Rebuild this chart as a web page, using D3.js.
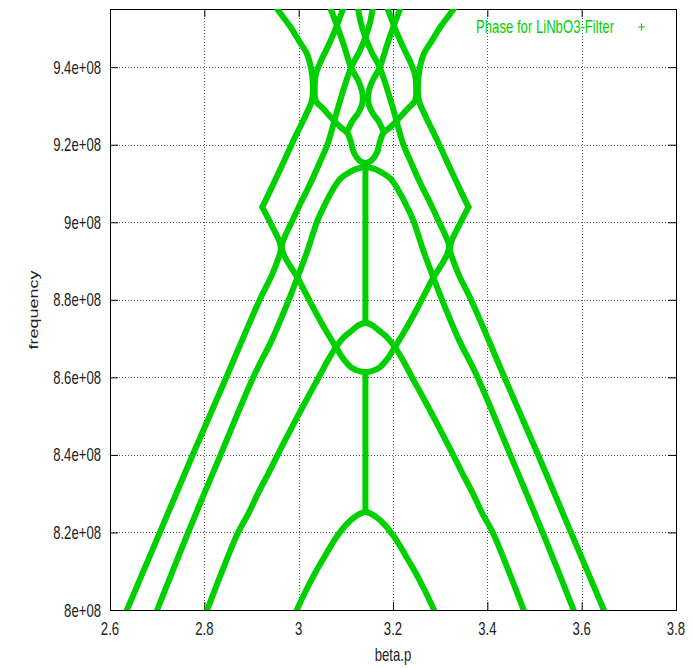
<!DOCTYPE html>
<html><head><meta charset="utf-8">
<script src="https://cdn.jsdelivr.net/npm/d3@7"></script>
<style>body{margin:0;background:#fff;} svg{display:block;}</style>
</head><body><svg id="c" width="693" height="668"></svg>
<script>
// ---- axis ticks ----
const xTicks = [2.6, 2.8, 3.0, 3.2, 3.4, 3.6, 3.8];
const xTickLabels = ["2.6", "2.8", "3", "3.2", "3.4", "3.6", "3.8"];
const yTicks = [8.0e8, 8.2e8, 8.4e8, 8.6e8, 8.8e8, 9.0e8, 9.2e8, 9.4e8];
const yTickLabels = ["8e+08", "8.2e+08", "8.4e+08", "8.6e+08", "8.8e+08", "9e+08", "9.2e+08", "9.4e+08"];
const seriesName = "Phase for LiNbO3-Filter";

// ---- branches: [beta.p, frequency] ----
const branchOuterLeftLow = [[2.636,8.000e8],[2.706,8.201e8],[2.775,8.399e8],[2.847,8.601e8],[2.917,8.799e8],[2.943,8.863e8],[2.957,8.907e8],[2.962,8.928e8],[2.960,8.948e8],[2.947,8.982e8],[2.923,9.039e8]];
const branchOuterLeftHigh = [[2.923,9.039e8],[2.955,9.121e8],[2.989,9.211e8],[3.013,9.271e8],[3.028,9.314e8],[3.030,9.358e8],[3.026,9.399e8],[3.017,9.436e8],[3.000,9.469e8],[2.983,9.503e8],[2.955,9.549e8],[2.950,9.560e8]];
const branchOuterRightLow = [[3.647,8.000e8],[3.577,8.201e8],[3.508,8.399e8],[3.436,8.601e8],[3.366,8.799e8],[3.340,8.863e8],[3.326,8.907e8],[3.321,8.928e8],[3.323,8.948e8],[3.336,8.982e8],[3.360,9.039e8]];
const branchOuterRightHigh = [[3.360,9.039e8],[3.328,9.121e8],[3.294,9.211e8],[3.270,9.271e8],[3.255,9.314e8],[3.253,9.358e8],[3.257,9.399e8],[3.266,9.436e8],[3.283,9.469e8],[3.300,9.503e8],[3.328,9.549e8],[3.333,9.560e8]];

const branchCrossLeft = [[3.1416,8.613e8],[3.126,8.617e8],[3.111,8.626e8],[3.094,8.649e8],[3.079,8.678e8],[3.057,8.722e8],[3.036,8.768e8],[3.017,8.812e8],[2.998,8.856e8],[2.981,8.889e8],[2.968,8.918e8],[2.964,8.938e8],[2.970,8.961e8],[2.985,9.000e8],[3.004,9.049e8],[3.026,9.103e8],[3.045,9.155e8],[3.062,9.204e8],[3.085,9.302e8],[3.111,9.399e8],[3.128,9.438e8],[3.1416,9.477e8],[3.151,9.513e8],[3.157,9.549e8],[3.160,9.560e8]];
const branchCrossRight = [[3.1416,8.613e8],[3.157,8.617e8],[3.172,8.626e8],[3.189,8.649e8],[3.204,8.678e8],[3.226,8.722e8],[3.247,8.768e8],[3.266,8.812e8],[3.285,8.856e8],[3.302,8.889e8],[3.315,8.918e8],[3.319,8.938e8],[3.313,8.961e8],[3.298,9.000e8],[3.279,9.049e8],[3.257,9.103e8],[3.238,9.155e8],[3.221,9.204e8],[3.198,9.302e8],[3.172,9.399e8],[3.155,9.438e8],[3.1416,9.477e8],[3.132,9.513e8],[3.126,9.549e8],[3.123,9.560e8]];

const branchArch = [[2.700,8.000e8],[2.766,8.201e8],[2.834,8.399e8],[2.904,8.601e8],[2.943,8.696e8],[2.970,8.773e8],[2.996,8.853e8],[3.019,8.928e8],[3.040,9.005e8],[3.055,9.044e8],[3.068,9.075e8],[3.089,9.113e8],[3.111,9.131e8],[3.126,9.139e8],[3.1416,9.142e8],[3.157,9.139e8],[3.172,9.131e8],[3.194,9.113e8],[3.215,9.075e8],[3.228,9.044e8],[3.243,9.005e8],[3.264,8.928e8],[3.287,8.853e8],[3.313,8.773e8],[3.340,8.696e8],[3.379,8.601e8],[3.449,8.399e8],[3.517,8.201e8],[3.583,8.000e8]];

const branchLens = [[2.806,8.000e8],[2.838,8.101e8],[2.872,8.201e8],[2.894,8.250e8],[2.913,8.299e8],[2.934,8.348e8],[2.955,8.399e8],[2.977,8.451e8],[2.998,8.500e8],[3.021,8.552e8],[3.043,8.601e8],[3.062,8.644e8],[3.079,8.678e8],[3.096,8.704e8],[3.111,8.719e8],[3.128,8.735e8],[3.1416,8.740e8],[3.155,8.735e8],[3.172,8.719e8],[3.187,8.704e8],[3.204,8.678e8],[3.221,8.644e8],[3.240,8.601e8],[3.262,8.552e8],[3.285,8.500e8],[3.306,8.451e8],[3.328,8.399e8],[3.349,8.348e8],[3.370,8.299e8],[3.389,8.250e8],[3.411,8.201e8],[3.445,8.101e8],[3.477,8.000e8]];

const branchLow = [[2.996,8.000e8],[3.015,8.049e8],[3.036,8.098e8],[3.057,8.142e8],[3.079,8.186e8],[3.100,8.219e8],[3.121,8.242e8],[3.1416,8.253e8],[3.162,8.242e8],[3.183,8.219e8],[3.204,8.186e8],[3.226,8.142e8],[3.247,8.098e8],[3.268,8.049e8],[3.287,8.000e8]];

const branchBulbLeft = [[3.1416,9.152e8],[3.128,9.160e8],[3.117,9.180e8],[3.111,9.206e8],[3.104,9.229e8],[3.089,9.245e8],[3.068,9.271e8],[3.051,9.294e8],[3.036,9.314e8],[3.034,9.345e8],[3.036,9.379e8],[3.045,9.410e8],[3.060,9.448e8],[3.077,9.495e8],[3.094,9.549e8],[3.098,9.560e8]];
const branchBulbRight = [[3.1416,9.152e8],[3.155,9.160e8],[3.166,9.180e8],[3.172,9.206e8],[3.179,9.229e8],[3.194,9.245e8],[3.215,9.271e8],[3.232,9.294e8],[3.247,9.314e8],[3.249,9.345e8],[3.247,9.379e8],[3.238,9.410e8],[3.223,9.448e8],[3.206,9.495e8],[3.189,9.549e8],[3.185,9.560e8]];

const branchWaistLeft = [[3.064,9.560e8],[3.068,9.549e8],[3.081,9.508e8],[3.096,9.456e8],[3.111,9.399e8],[3.126,9.366e8],[3.134,9.340e8],[3.136,9.320e8],[3.134,9.302e8],[3.126,9.281e8],[3.115,9.263e8],[3.104,9.237e8]];
const branchWaistRight = [[3.219,9.560e8],[3.215,9.549e8],[3.202,9.508e8],[3.187,9.456e8],[3.172,9.399e8],[3.157,9.366e8],[3.149,9.340e8],[3.147,9.320e8],[3.149,9.302e8],[3.157,9.281e8],[3.168,9.263e8],[3.179,9.237e8]];

const gapLow = [[3.1416,8.253e8],[3.1416,8.613e8]];
const gapHigh = [[3.1416,8.740e8],[3.1416,9.142e8]];

const branches = [branchOuterLeftLow, branchOuterLeftHigh, branchOuterRightLow, branchOuterRightHigh, branchCrossLeft, branchCrossRight, branchArch, branchLens, branchLow, branchBulbLeft, branchBulbRight, branchWaistLeft, branchWaistRight, gapLow, gapHigh];

// ---- drawing ----
const W = 693, H = 668;
const m = {left: 110, right: 17, top: 9, bottom: 58};
const x = d3.scaleLinear().domain([2.6, 3.8]).range([m.left, W - m.right]);
const y = d3.scaleLinear().domain([8.0e8, 9.55e8]).range([H - m.bottom, m.top]);
const green = "#00d000";
const svg = d3.select("#c");
const FONT = "'Liberation Sans', Arial, Helvetica, sans-serif";
const SX = 0.73;

svg.append("defs").append("clipPath").attr("id", "clip")
  .append("rect").attr("x", m.left).attr("y", m.top)
  .attr("width", W - m.left - m.right).attr("height", H - m.top - m.bottom);

// grid
const grid = svg.append("g").attr("stroke", "#555").attr("stroke-width", 1).attr("stroke-dasharray", "1,2");
grid.selectAll(".gx").data(xTicks.slice(1, -1)).join("line")
  .attr("x1", d => Math.round(x(d)) + 0.5).attr("x2", d => Math.round(x(d)) + 0.5)
  .attr("y1", y.range()[0]).attr("y2", y.range()[1]);
grid.selectAll(".gy").data(yTicks.slice(1)).join("line")
  .attr("y1", d => Math.round(y(d)) + 0.5).attr("y2", d => Math.round(y(d)) + 0.5)
  .attr("x1", x.range()[0]).attr("x2", x.range()[1]);

// axes with inward ticks
const axB = svg.append("g").attr("transform", `translate(0,${y.range()[0]})`)
  .call(d3.axisBottom(x).tickValues(xTicks).tickSize(-8).tickFormat(""));
const axT = svg.append("g").attr("transform", `translate(0,${y.range()[1]})`)
  .call(d3.axisTop(x).tickValues(xTicks).tickSize(-8).tickFormat(""));
const axL = svg.append("g").attr("transform", `translate(${x.range()[0]},0)`)
  .call(d3.axisLeft(y).tickValues(yTicks).tickSize(-8).tickFormat(""));
const axR = svg.append("g").attr("transform", `translate(${x.range()[1]},0)`)
  .call(d3.axisRight(y).tickValues(yTicks).tickSize(-8).tickFormat(""));
[axB, axT, axL, axR].forEach(a => { a.selectAll("path,line").attr("stroke", "#000").attr("stroke-width", 1); });

// tick labels
svg.append("g").selectAll("text").data(xTicks).join("text")
  .attr("transform", d => `translate(${x(d)},635) scale(${SX},1)`)
  .attr("text-anchor", "middle").attr("font-family", FONT).attr("font-size", 18).attr("fill", "#222")
  .text((d, i) => xTickLabels[i]);
svg.append("g").selectAll("text").data(yTicks).join("text")
  .attr("transform", d => `translate(101,${y(d) + 6.5}) scale(${SX},1)`)
  .attr("text-anchor", "end").attr("font-family", FONT).attr("font-size", 18).attr("fill", "#222")
  .text((d, i) => yTickLabels[i]);

// axis titles
svg.append("text").attr("transform", `translate(393,661) scale(${SX},1)`)
  .attr("text-anchor", "middle").attr("font-family", FONT).attr("font-size", 18).attr("fill", "#222").text("beta.p");
svg.append("text").attr("transform", `translate(38,310) scale(${SX},1) rotate(-90)`)
  .attr("text-anchor", "middle").attr("font-family", FONT).attr("font-size", 18).attr("fill", "#222").text("frequency");

// curves
const line = d3.line().x(d => x(d[0])).y(d => y(d[1])).curve(d3.curveCatmullRom.alpha(0.5));
svg.append("g").attr("clip-path", "url(#clip)")
  .selectAll("path").data(branches).join("path")
  .attr("d", line).attr("fill", "none").attr("stroke", green)
  .attr("stroke-width", 6).attr("stroke-linejoin", "round").attr("stroke-linecap", "round");

// legend
svg.append("text").attr("transform", `translate(614,33) scale(${SX},1)`)
  .attr("text-anchor", "end").attr("font-family", FONT).attr("font-size", 18).attr("fill", green).text(seriesName);
svg.append("path").attr("d", "M638,27h7M641.5,23.5v7").attr("stroke", green).attr("stroke-width", 1.2);
</script></body></html>
